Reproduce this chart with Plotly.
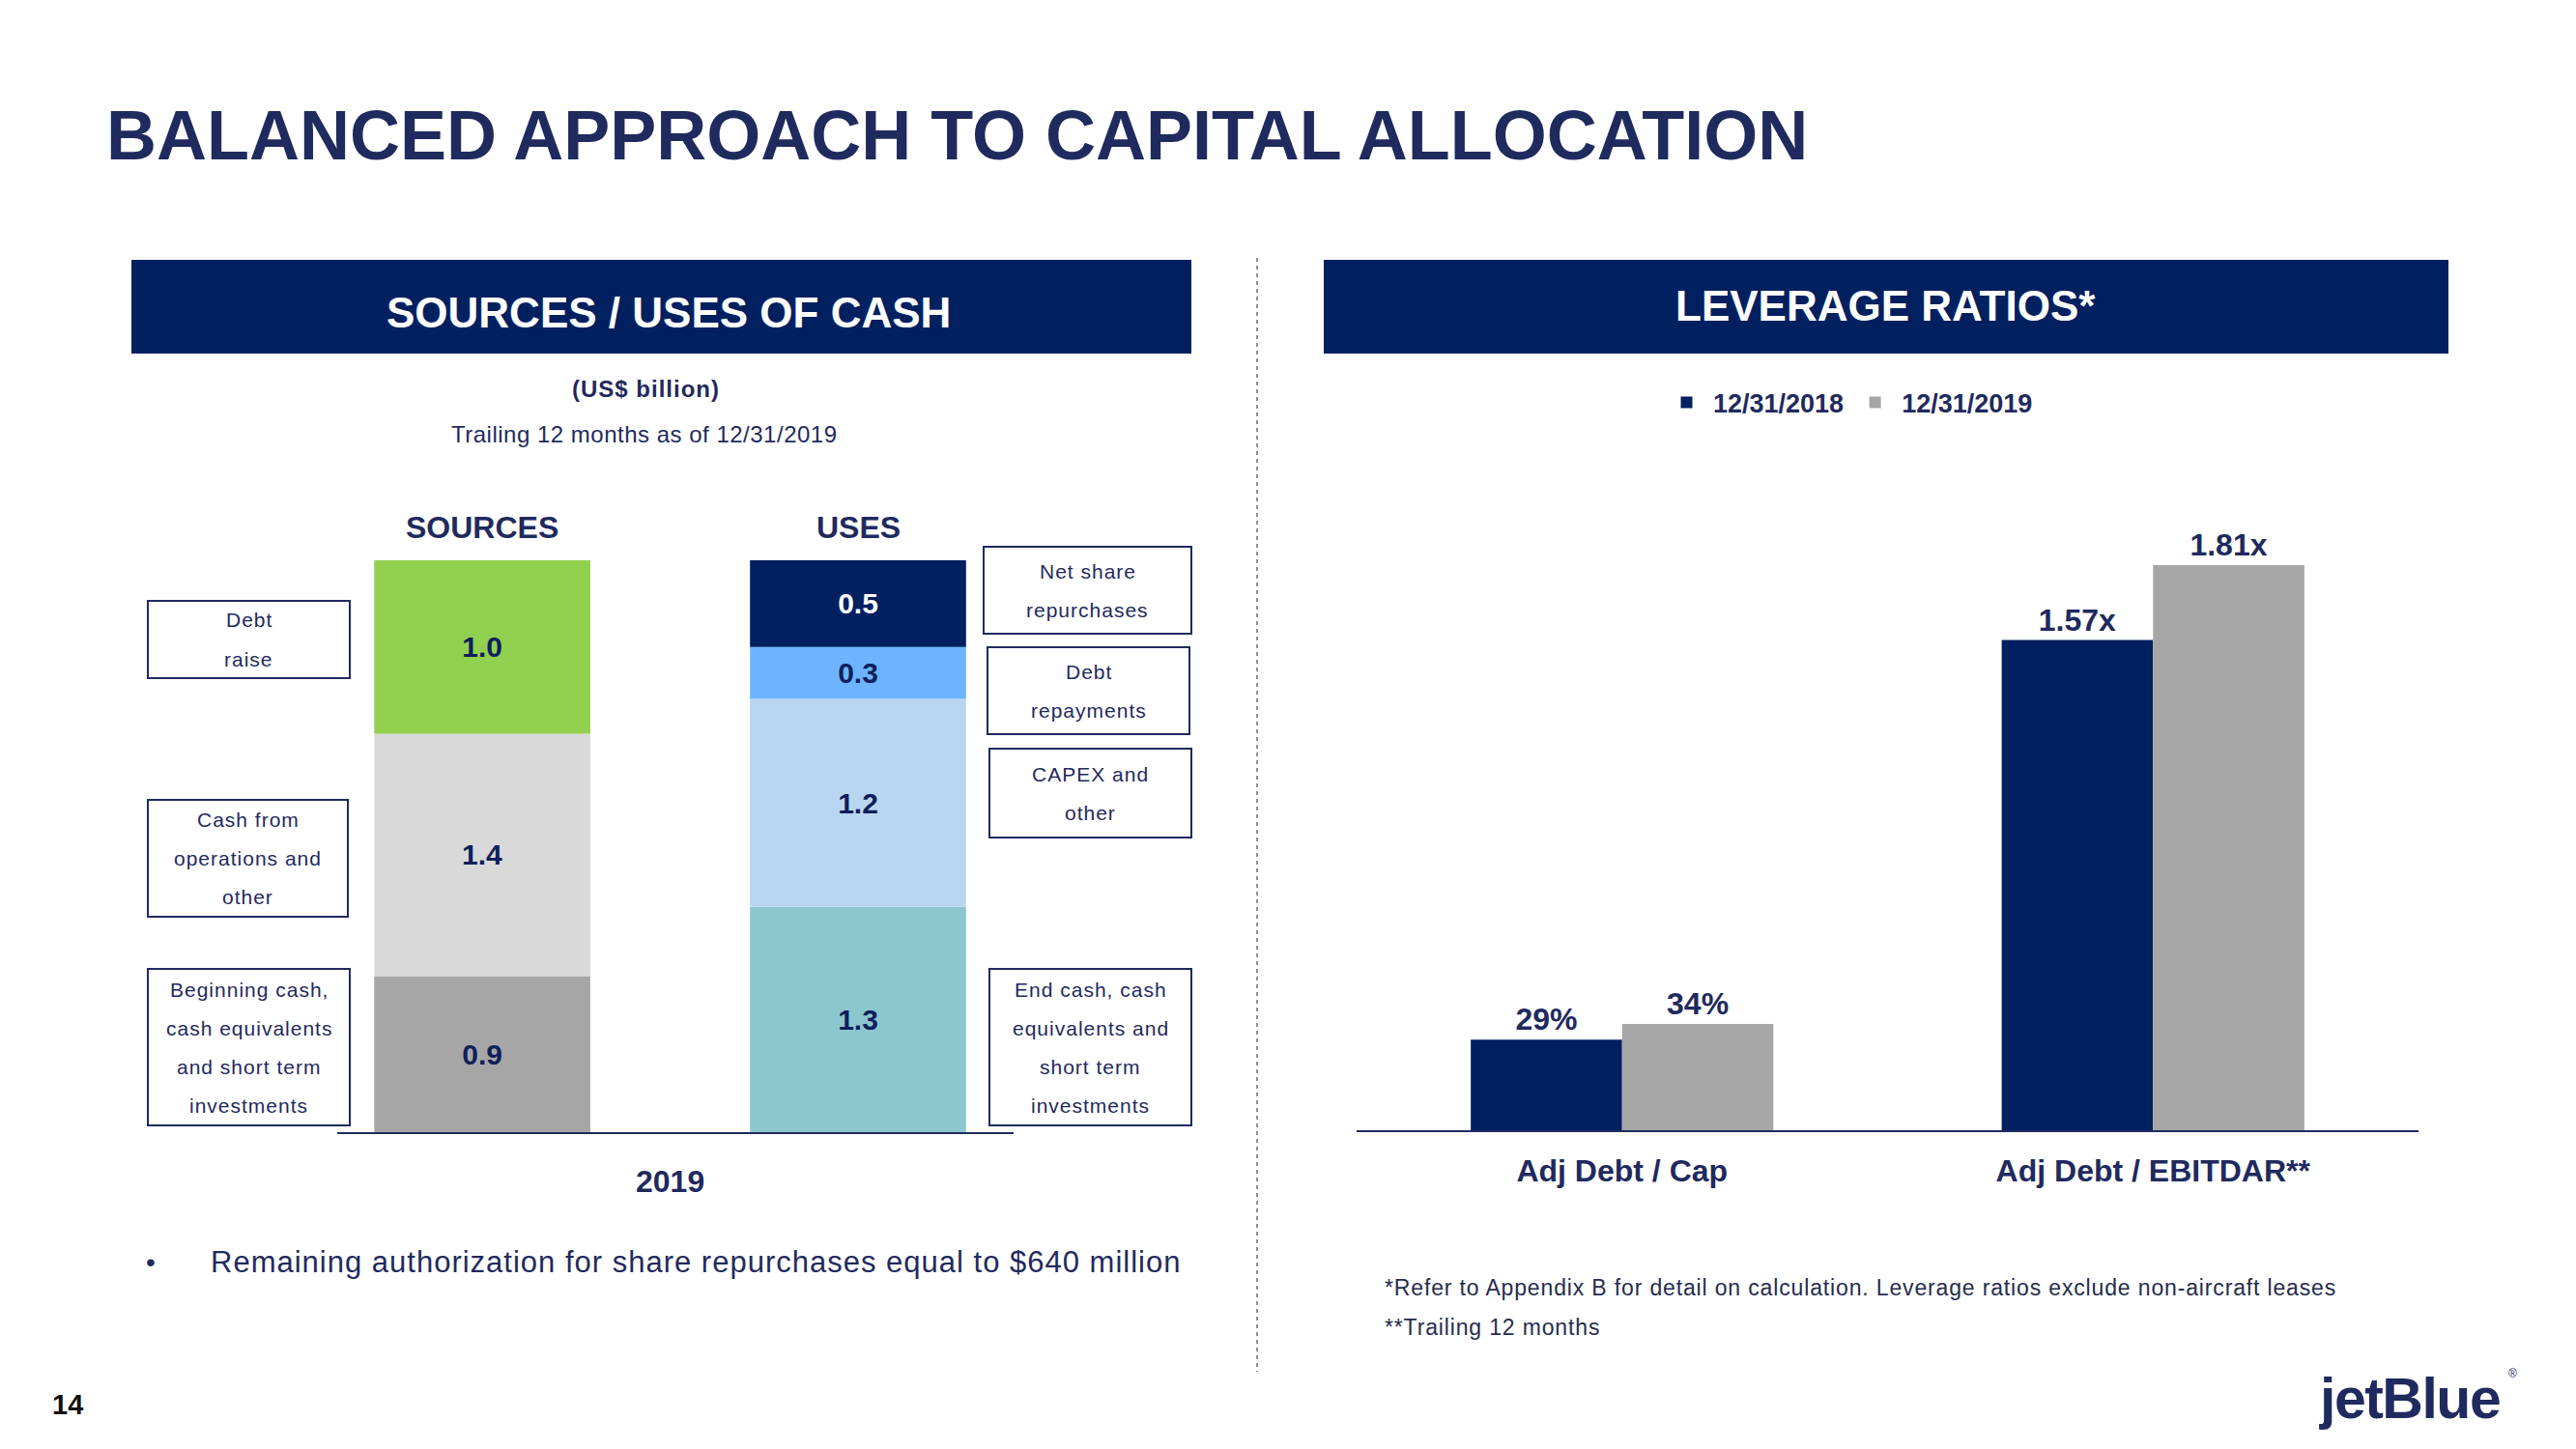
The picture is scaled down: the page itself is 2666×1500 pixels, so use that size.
import plotly.graph_objects as go

W, H = 2666, 1500


def px(x):
    return x / W


def py(y):
    return 1 - y / H


# ---------------- data ----------------
source_cat = "SOURCES"
use_cat = "USES"
source_names = ["Beginning cash, cash equivalents and short term investments",
                "Cash from operations and other", "Debt raise"]
source_values = [0.9, 1.4, 1.0]
source_text = ["0.9", "1.4", "1.0"]

use_names = ["End cash, cash equivalents and short term investments",
             "CAPEX and other", "Debt repayments", "Net share repurchases"]
use_values = [1.3, 1.2, 0.3, 0.5]
use_text = ["1.3", "1.2", "0.3", "0.5"]
year_label = "2019"

lev_categories = ["Adj Debt / Cap", "Adj Debt / EBITDAR**"]
series_names = ["12/31/2018", "12/31/2019"]
lev_2018 = [0.29, 1.57]
lev_2019 = [0.34, 1.81]
lev_2018_text = ["29%", "1.57x"]
lev_2019_text = ["34%", "1.81x"]

# box label lines (left side / right side)
source_box_lines = [["Beginning cash,", "cash equivalents", "and short term", "investments"],
                    ["Cash from", "operations and", "other"],
                    ["Debt", "raise"]]
use_box_lines = [["End cash, cash", "equivalents and", "short term", "investments"],
                 ["CAPEX and", "other"],
                 ["Debt", "repayments"],
                 ["Net share", "repurchases"]]

# ---------------- styles ----------------
FONT = "Liberation Sans, Arial, Helvetica, sans-serif"
NAVY = "#1F2A5E"
HEADER = "#002060"
VAL_NAVY = "#0E1F5B"
source_colors = ["#A6A6A6", "#D9D9D9", "#92D050"]
use_colors = ["#8CC6CF", "#B9D6F1", "#6CB4FF", "#002060"]
use_text_colors = [VAL_NAVY, VAL_NAVY, VAL_NAVY, "#FFFFFF"]
source_text_colors = [VAL_NAVY, VAL_NAVY, VAL_NAVY]
series_colors = ["#002060", "#A6A6A6"]


def spaced(t, ls=1):
    return '<span style="letter-spacing:%spx">%s</span>' % (ls, t)


fig = go.Figure()

# ---------------- left: sources / uses stacked ----------------
BAR_W = 0.575


def add_stack(cat, names, values, texts, colors, tcolors):
    base = 0.0
    for n, v, t, c, tc in zip(names, values, texts, colors, tcolors):
        fig.add_trace(go.Bar(
            x=[cat], y=[v], base=[base], width=BAR_W, name=n,
            marker=dict(color=c, line=dict(width=0)),
            text=[t], textposition="inside", insidetextanchor="middle",
            textangle=0, constraintext="none",
            textfont=dict(family=FONT, size=30, color=tc, weight="bold"),
            xaxis="x", yaxis="y", showlegend=False,
            hovertemplate=n + ": %{y}<extra></extra>"))
        base += v


add_stack(source_cat, source_names, source_values, source_text, source_colors, source_text_colors)
add_stack(use_cat, use_names, use_values, use_text, use_colors, use_text_colors)

# ---------------- right: leverage ratios ----------------
LW = 0.285
for name, vals, txt, col, off in [(series_names[0], lev_2018, lev_2018_text, series_colors[0], -LW),
                                   (series_names[1], lev_2019, lev_2019_text, series_colors[1], 0.0)]:
    fig.add_trace(go.Bar(
        x=lev_categories, y=vals, name=name, width=LW, offset=off,
        marker=dict(color=col, line=dict(width=0)),
        text=txt, textposition="outside", cliponaxis=False, constraintext="none",
        textfont=dict(family=FONT, size=32, color=NAVY, weight="bold"),
        xaxis="x2", yaxis="y2", hovertemplate=name + ": %{text}<extra></extra>"))

# ---------------- shapes ----------------
shapes = [
    dict(type="rect", xref="paper", yref="paper", x0=px(136), x1=px(1233), y0=py(366), y1=py(269),
         fillcolor=HEADER, line=dict(width=0), layer="below"),
    dict(type="rect", xref="paper", yref="paper", x0=px(1370), x1=px(2534), y0=py(366), y1=py(269),
         fillcolor=HEADER, line=dict(width=0), layer="below"),
    dict(type="line", xref="paper", yref="paper", x0=px(1301), x1=px(1301), y0=py(267), y1=py(1420),
         line=dict(color="#6E6E6E", width=1.5, dash="4px,4px")),
]

annotations = []


def ann(text, x, y, size, color=NAVY, bold=False, xanchor="center", yanchor="middle"):
    annotations.append(dict(text=text, x=px(x), y=py(y), xref="paper", yref="paper",
                            showarrow=False, xanchor=xanchor, yanchor=yanchor,
                            font=dict(family=FONT, size=size, color=color,
                                      weight="bold" if bold else "normal")))


# title
ann("BALANCED APPROACH TO CAPITAL ALLOCATION", 108, 140, 72, bold=True, xanchor="left")
# panel headers
ann("SOURCES / USES OF CASH", 692, 323, 44, color="#FFFFFF", bold=True)
ann("LEVERAGE RATIOS*", 1951, 316, 44, color="#FFFFFF", bold=True)
ann(spaced("(US$ billion)"), 668, 403, 24, bold=True)
ann(spaced("Trailing 12 months as of 12/31/2019", 0.5), 667, 449, 24)

# column headers above bars
for cat in [source_cat, use_cat]:
    annotations.append(dict(text=cat, x=cat, xref="x", y=py(546), yref="paper", showarrow=False,
                            yanchor="middle",
                            font=dict(family=FONT, size=32, color=NAVY, weight="bold")))
annotations.append(dict(text=year_label, x=0.5, xref="x", y=py(1223), yref="paper", showarrow=False,
                        yanchor="middle",
                        font=dict(family=FONT, size=32, color=NAVY, weight="bold")))

# label boxes
left_boxes = [(153, 362, 1003, 1165), (153, 360, 828, 949), (153, 362, 622, 702)]
right_boxes = [(1024, 1233, 1003, 1165), (1024, 1233, 775, 867), (1022, 1231, 670, 760), (1018, 1233, 566, 656)]
LINE_GAP = 40
for lines, (x0, x1, y0, y1) in list(zip(source_box_lines, left_boxes)) + list(zip(use_box_lines, right_boxes)):
    shapes.append(dict(type="rect", xref="paper", yref="paper", x0=px(x0), x1=px(x1), y0=py(y1), y1=py(y0),
                       fillcolor="#FFFFFF", line=dict(color=NAVY, width=2)))
    cy = (y0 + y1) / 2
    n = len(lines)
    for i, line in enumerate(lines):
        ann(spaced(line), (x0 + x1) / 2, cy + (i - (n - 1) / 2) * LINE_GAP, 21)

# bullet
ann("•", 156, 1306, 28, xanchor="center")
ann(spaced("Remaining authorization for share repurchases equal to $640 million", 1),
    216, 1306, 31, xanchor="left")

# footnotes
ann(spaced("*Refer to Appendix B for detail on calculation. Leverage ratios exclude non-aircraft leases", 0.85),
    1431, 1333, 23, color="#262C4E", xanchor="left")
ann(spaced("**Trailing 12 months", 0.85), 1431, 1374, 23, color="#262C4E", xanchor="left")

# page number and logo
ann("14", 70, 1454, 29, color="#111111", bold=True)
ann(spaced("jetBlue", -1.5), 2398, 1448, 59, color=NAVY, bold=True, xanchor="left")
ann("®", 2600, 1422, 12, color=NAVY, bold=False)

fig.update_layout(
    width=W, height=H, margin=dict(l=0, r=0, t=0, b=0),
    paper_bgcolor="#FFFFFF", plot_bgcolor="#FFFFFF",
    barmode="overlay",
    font=dict(family=FONT, color=NAVY),
    shapes=shapes, annotations=annotations,
    xaxis=dict(domain=[px(349), px(1049)], range=[-0.386, 1.414], anchor="y",
               categoryorder="array", categoryarray=[source_cat, use_cat],
               showticklabels=False, ticks="", showgrid=False, zeroline=False,
               showline=True, linecolor=NAVY, linewidth=2, fixedrange=True),
    yaxis=dict(domain=[py(1172), py(580)], range=[0, 3.3], anchor="x", visible=False, fixedrange=True),
    xaxis2=dict(domain=[px(1404), px(2503)], range=[-0.5, 1.5], anchor="y2",
                categoryorder="array", categoryarray=lev_categories,
                ticks="", ticklabelstandoff=13, showgrid=False, zeroline=False,
                tickfont=dict(family=FONT, size=32, color=NAVY, weight="bold"),
                showline=True, linecolor=NAVY, linewidth=2, fixedrange=True),
    yaxis2=dict(domain=[py(1170), py(1170 - 2.0 * 323.2)], range=[0, 2.0], anchor="x2",
                visible=False, fixedrange=True),
    legend=dict(orientation="h", x=px(1718), y=py(417), xanchor="left", yanchor="middle",
                itemwidth=45,
                font=dict(family=FONT, size=27, color=NAVY, weight="bold"),
                bgcolor="rgba(0,0,0,0)", traceorder="normal", itemclick=False, itemdoubleclick=False),
    showlegend=True,
)

fig.write_html("out.html")
